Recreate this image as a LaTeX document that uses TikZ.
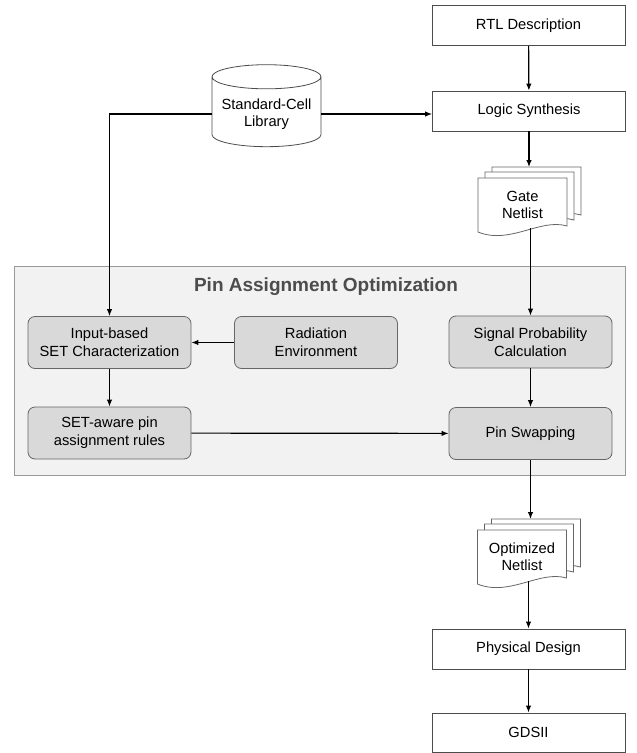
\documentclass[tikz,border=0pt]{standalone}
\usepackage{fontspec}
\setmainfont{Liberation Sans}
\usetikzlibrary{shapes.geometric,arrows.meta,positioning,calc}
\tikzset{
  flowbox/.style={draw=black!70,fill=white,line width=0.8pt,minimum width=193pt,minimum height=40pt,font=\fontsize{14.7}{17}\selectfont},
  stepbox/.style={draw=black!60,fill=black!15,line width=0.8pt,rounded corners=7pt,minimum width=163pt,minimum height=52pt,align=center,font=\fontsize{14.7}{18}\selectfont},
  docline/.style={draw=black!60,fill=white,line width=0.8pt},
  arr/.style={-{Latex[length=7pt,width=5.5pt]},line width=1.2pt},
}
\newcommand\docsheet[3]{% centre, dx, dy
  \draw[docline] ($(#1)+(#2,#3)+(-44.5,-27)$) -- ++(89,0) -- ++(0,48)
    .. controls +(-27,-8) and +(32,13) .. ++(-89,6) -- cycle;
}

\begin{document}
\begin{tikzpicture}[x=1pt,y=-1pt]
  \useasboundingbox (0,0) rectangle (637,753);
  % optimization panel
  \node[draw=black!40,fill=black!5,line width=0.8pt,minimum width=611pt,minimum height=209pt,anchor=north west] (panel) at (14,266) {};
  \node[font=\fontsize{19}{22}\selectfont\bfseries,text=black!70] (title) at (326,287) {Pin Assignment Optimization};

  % main flow
  \node[flowbox] (rtl) at (528.5,25.5) {RTL Description};
  \node[flowbox] (synth) at (529,111) {Logic Synthesis};
  \node[flowbox] (physd) at (528.5,649) {Physical Design};
  \node[flowbox,minimum height=39pt] (gds) at (528.5,732.5) {GDSII};

  \node[cylinder,shape border rotate=90,aspect=0.25,draw=black!70,fill=white,line width=0.8pt,
        minimum width=109pt,minimum height=82pt,align=center,font=\fontsize{14.7}{17}\selectfont] (lib) at (266.5,114) {Standard-Cell\\Library};

  % netlist stacks
  \coordinate (gatec) at (522.5,205);
  \docsheet{gatec}{14}{-11}
  \docsheet{gatec}{7}{-6}
  \docsheet{gatec}{0}{0}
  \node[align=center,font=\fontsize{14.7}{17}\selectfont] (gate) at (gatec) {Gate\\Netlist};
  \coordinate (gtop) at (522.5,167);
  \coordinate (gbot) at (522.5,228);

  \coordinate (optc) at (522,557);
  \docsheet{optc}{14}{-11}
  \docsheet{optc}{7}{-6}
  \docsheet{optc}{0}{0}
  \node[align=center,font=\fontsize{14.7}{17}\selectfont] (opt) at (optc) {Optimized\\Netlist};
  \coordinate (otop) at (522,519);
  \coordinate (obot) at (522,581);

  % inside the panel
  \node[stepbox] (inchar) at (109.5,342.5) {Input-based\\SET Characterization};
  \node[stepbox] (radenv) at (316,342.5) {Radiation\\Environment};
  \node[stepbox] (setrules) at (109.5,433) {SET-aware pin\\assignment rules};
  \node[stepbox] (sigprob) at (530.5,342) {Signal Probability\\Calculation};
  \node[stepbox] (pinsw) at (530.5,433.5) {Pin Swapping};

  % connectors
  \draw[arr] (rtl) -- (synth);
  \draw[arr] (lib.east) -- (lib.east -| synth.west);
  \draw[arr] (lib.west) -| (inchar.north);
  \draw[arr] (synth.south) -- (synth.south |- gtop);
  \draw[arr] (sigprob.north |- gbot) -- (sigprob.north);
  \draw[arr] (radenv) -- (inchar);
  \draw[arr] (inchar) -- (setrules);
  \draw[arr] (sigprob) -- (pinsw);
  \draw[arr] (setrules) -- (pinsw);
  \draw[arr] (pinsw.south) -- (pinsw.south |- otop);
  \draw[arr] (physd.north |- obot) -- (physd.north);
  \draw[arr] (physd) -- (gds);
\end{tikzpicture}
\end{document}
